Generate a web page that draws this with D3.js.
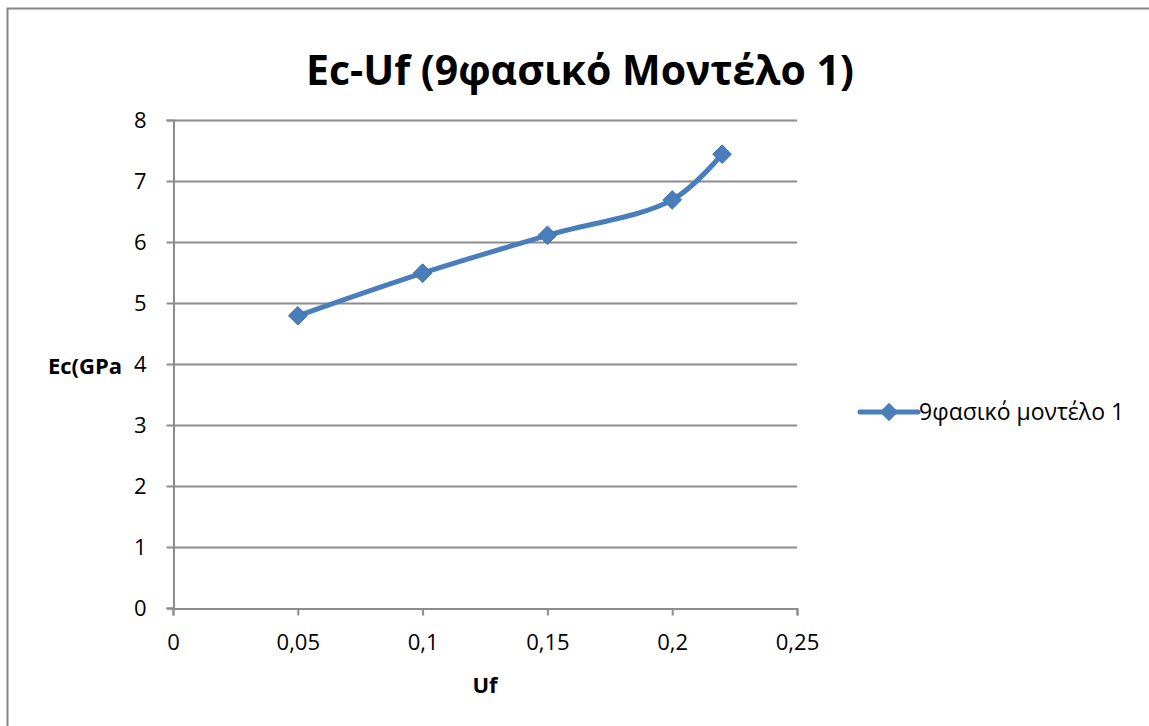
<!DOCTYPE html>
<html>
<head>
<meta charset="utf-8">
<script src="https://cdn.jsdelivr.net/npm/d3@7"></script>
<style>
  html, body { margin: 0; padding: 0; background: #fff; }
  svg { display: block; }
  text { font-family: "Open Sans", "Noto Sans", sans-serif; fill: #000; }
</style>
</head>
<body>
<div id="chart"></div>
<script>
// Fibre volume fraction (Uf) and composite modulus Ec (GPa)
const uf = [0.05, 0.1, 0.15, 0.2, 0.22];
const ec = [4.79, 5.49, 6.11, 6.69, 7.44];
const xTicks = [0, 0.05, 0.1, 0.15, 0.2, 0.25];
const yTicks = [0, 1, 2, 3, 4, 5, 6, 7, 8];
const seriesName = "9φασικό μοντέλο 1";
const titleText = "Ec-Uf (9φασικό Μοντέλο 1)";

const W = 1149, H = 726;
const plot = { left: 173, right: 797, top: 120, bottom: 608 };
const blue = "#4A7EBB";
const grid = "#8c8c8c";

const svg = d3.select("#chart").append("svg")
  .attr("width", W).attr("height", H);

// chart frame
svg.append("rect")
  .attr("x", 7.5).attr("y", 8.5)
  .attr("width", W + 10).attr("height", H + 10)
  .attr("fill", "#fff").attr("stroke", "#868686").attr("stroke-width", 2);

const x = d3.scaleLinear().domain([0, 0.25]).range([plot.left, plot.right]);
const y = d3.scaleLinear().domain([0, 8]).range([plot.bottom, plot.top]);

const fmt = d => String(d).replace(".", ",");

// horizontal gridlines
svg.append("g").selectAll("line").data(yTicks.filter(d => d > 0)).join("line")
  .attr("x1", plot.left).attr("x2", plot.right)
  .attr("y1", d => Math.round(y(d)) + 0.5).attr("y2", d => Math.round(y(d)) + 0.5)
  .attr("stroke", grid).attr("stroke-width", 2);

// y axis
const yAxis = svg.append("g")
  .attr("transform", `translate(${plot.left + 0.5},0)`)
  .call(d3.axisLeft(y).tickValues(yTicks).tickSize(7).tickPadding(20).tickFormat(fmt));
yAxis.select(".domain").attr("stroke", grid).attr("stroke-width", 2);
yAxis.selectAll(".tick line").attr("stroke", grid).attr("stroke-width", 2);
yAxis.selectAll(".tick text").style("font-size", "22px").attr("fill", "#000");

// x axis
const xAxis = svg.append("g")
  .attr("transform", `translate(0,${plot.bottom + 0.5})`)
  .call(d3.axisBottom(x).tickValues(xTicks).tickSize(7).tickPadding(19).tickFormat(fmt));
xAxis.select(".domain").attr("stroke", grid).attr("stroke-width", 2);
xAxis.selectAll(".tick line").attr("stroke", grid).attr("stroke-width", 2);
xAxis.selectAll(".tick text").style("font-size", "22px").attr("fill", "#000");

// series line (smoothed)
const pts = uf.map((u, i) => [u, ec[i]]);
const line = d3.line().x(d => x(d[0])).y(d => y(d[1])).curve(d3.curveCatmullRom.alpha(0.5));
svg.append("path").datum(pts)
  .attr("d", line).attr("fill", "none")
  .attr("stroke", blue).attr("stroke-width", 5).attr("stroke-linejoin", "round");

// diamond markers
const diamond = d3.symbol().type(d3.symbolDiamond2).size(220);
svg.append("g").selectAll("path").data(pts).join("path")
  .attr("transform", d => `translate(${x(d[0])},${y(d[1])})`)
  .attr("d", diamond).attr("fill", blue).attr("stroke", "#3f6fa8").attr("stroke-width", 1);

// title
svg.append("text")
  .attr("x", 580).attr("y", 85).attr("text-anchor", "middle")
  .style("font-size", "41px").attr("font-weight", "bold")
  .text(titleText);

// axis titles
svg.append("text")
  .attr("x", 122).attr("y", 374).attr("text-anchor", "end")
  .style("font-size", "22px").attr("font-weight", "bold")
  .text("Ec(GPa");
svg.append("text")
  .attr("x", 485).attr("y", 693).attr("text-anchor", "middle")
  .style("font-size", "22px").attr("font-weight", "bold")
  .text("Uf");

// legend
const lg = svg.append("g").attr("transform", "translate(860,412)");
lg.append("line").attr("x1", 0).attr("x2", 58).attr("y1", 0).attr("y2", 0)
  .attr("stroke", blue).attr("stroke-width", 5).attr("stroke-linecap", "round");
lg.append("path").attr("transform", "translate(29,0)").attr("d", diamond).attr("fill", blue);
lg.append("text").attr("x", 59).attr("y", 8).style("font-size", "23px").text(seriesName);
</script>
</body>
</html>
